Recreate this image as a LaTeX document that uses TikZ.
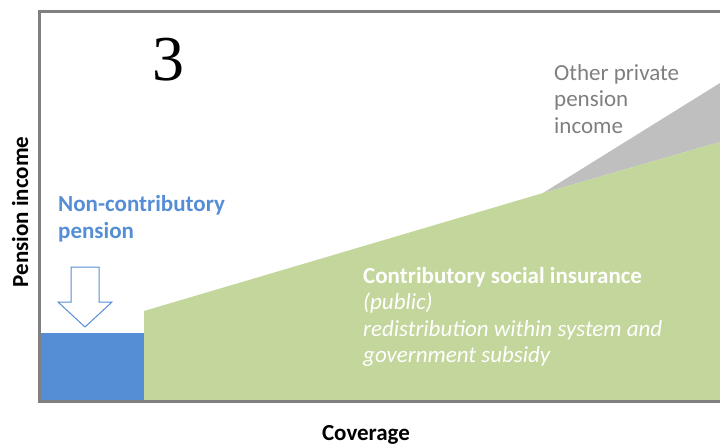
\documentclass[tikz,border=0pt]{standalone}
\usepackage{fontspec}
\setmainfont{Carlito}
\newfontfamily\numfont{Liberation Serif}
\definecolor{ncblue}{HTML}{558ED5}
\definecolor{csgreen}{HTML}{C3D69B}
\definecolor{privgray}{HTML}{BFBFBF}
\definecolor{labelgray}{HTML}{7F7F7F}
\definecolor{axisgray}{HTML}{808080}
\begin{document}
\begin{tikzpicture}[x=1pt,y=-1pt,
  lbl/.style={inner sep=0,align=left,anchor=base west,font=\fontsize{23}{26.5}\selectfont},
  boldlbl/.style={lbl,font=\fontsize{23}{26.5}\selectfont\bfseries}]
  \useasboundingbox (0,0) rectangle (720,445);
  % the three pension tiers
  \fill[privgray] (543,193) -- (720,83) -- (720,142) -- cycle;
  \fill[csgreen] (144,311) -- (543,193) -- (720,142) -- (720,401) -- (144,401) -- cycle;
  \fill[ncblue] (39,333) rectangle (144,401);
  % block arrow down onto the blue tier
  \draw[ncblue,fill=white,line width=1pt] (71,267) -- (99,267) -- (99,302) -- (112,302)
     -- (85,327) -- (58,302) -- (71,302) -- cycle;
  % frame
  \draw[axisgray,line width=3pt] (720,11) -- (39,11) -- (39,401) -- (720,401);

  % multi-line labels sit on the baseline of their last line
  \node[inner sep=0,anchor=base,font=\numfont\fontsize{64}{64}\selectfont] (num) at (168,80) {3};
  \node[boldlbl,ncblue] (noncontrib) at (58,238) {Non-contributory\\pension};
  \node[lbl,labelgray] (private) at (554,133) {Other private\\pension\\income};
  \node[lbl,white] (contrib) at (363,362.5) {\textbf{Contributory social insurance}\\\textit{(public)}\\
     \textit{redistribution within system and}\\\textit{government subsidy}};
  \node[boldlbl,rotate=90,anchor=base] (yaxis) at (28,212) {Pension income};
  \node[boldlbl,anchor=base] (xaxis) at (366,440) {Coverage};
\end{tikzpicture}
\end{document}
